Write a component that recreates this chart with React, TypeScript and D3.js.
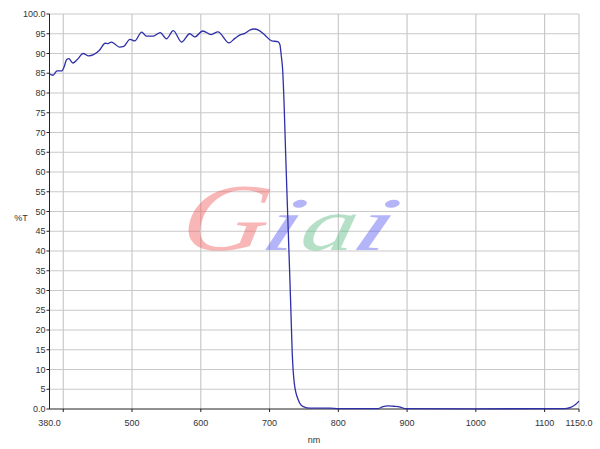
import React from "react";
import * as d3 from "d3";

const wavelengths = [380, 385, 391, 398, 401, 405, 408, 414, 420, 429, 437, 444, 453, 461, 465, 470, 475, 482, 488, 497, 504, 514, 521, 531, 541, 550, 560, 572, 584, 591, 603, 615, 625, 641, 650, 657, 664, 672, 677, 684, 693, 703, 712, 715, 717, 719, 721, 723.4, 725.8, 728.3, 730.7, 733, 736, 741.8, 749, 759, 788, 800, 858, 865, 872, 880, 890, 897, 1000, 1130, 1138, 1144, 1150];
const transmittance = [84.8, 84.5, 85.6, 85.6, 86.5, 88.5, 88.7, 87.6, 88.4, 90.0, 89.4, 89.7, 90.9, 92.6, 92.5, 92.9, 92.4, 91.6, 91.8, 93.6, 93.2, 95.4, 94.4, 94.4, 95.3, 93.7, 95.8, 92.9, 95.0, 94.2, 95.7, 94.8, 95.5, 92.7, 93.9, 94.7, 95.1, 96.0, 96.2, 95.9, 94.7, 93.2, 93.0, 92.3, 89.5, 86, 78, 64.7, 52.1, 39.4, 26.8, 14.1, 6.5, 2.3, 0.6, 0.2, 0.2, 0.1, 0.1, 0.6, 0.8, 0.7, 0.5, 0.1, 0.05, 0.1, 0.4, 1.0, 2.0];

const xTicks = [400, 500, 600, 700, 800, 900, 1000, 1100, 1150];
const xTickLabels = ["", "500", "600", "700", "800", "900", "1000", "1100", "1150.0"];
const xStartLabel = "380.0";
const yTicks = [0, 5, 10, 15, 20, 25, 30, 35, 40, 45, 50, 55, 60, 65, 70, 75, 80, 85, 90, 95, 100];
const yTickLabels = ["0.0", "5", "10", "15", "20", "25", "30", "35", "40", "45", "50", "55", "60", "65", "70", "75", "80", "85", "90", "95", "100.0"];
const xTitle = "nm";
const yTitle = "%T";

const W = 600;
const H = 449;
const left = 49.5;
const right = 579;
const top = 14;
const bottom = 409;

export default function App() {
  const x = d3.scaleLinear().domain([380, 1150]).range([left, right]);
  const y = d3.scaleLinear().domain([0, 100]).range([bottom, top]);
  const data = wavelengths.map((w, i) => [w, transmittance[i]] as [number, number]);
  const line = d3
    .line<[number, number]>()
    .x((d) => x(d[0]))
    .y((d) => y(d[1]))
    .curve(d3.curveMonotoneX);
  const font = "'Liberation Sans', Arial, sans-serif";
  const grid = "#c9c9c9";
  return (
    <svg
      width={W}
      height={H}
      style={{ position: "absolute", left: 0, top: 0, background: "#fff" }}
      fontFamily={font}
    >
      <rect x={0} y={0} width={W} height={H} fill="#fff" />
      {/* grid */}
      {yTicks.slice(1).map((t) => (
        <line key={"gy" + t} x1={left} x2={right} y1={y(t)} y2={y(t)} stroke={grid} strokeWidth={1.2} />
      ))}
      {xTicks.map((t) => (
        <line key={"gx" + t} x1={x(t)} x2={x(t)} y1={top} y2={bottom} stroke={grid} strokeWidth={1.2} />
      ))}
      {/* watermark */}
      <g fontFamily="'Liberation Serif', 'DejaVu Serif', serif" fontStyle="italic" opacity={0.45}>
        <text transform="translate(178,250) scale(1.25,1) skewX(-8)" fontSize={96} fill="#f06060">G</text>
        <text transform="translate(258,250) scale(1.7,1) skewX(-12)" fontSize={76} fill="#5a5af0">i</text>
        <text transform="translate(298,250) scale(1.45,1) skewX(-8)" fontSize={76} fill="#5cbc84">a</text>
        <text transform="translate(348,250) scale(1.8,1) skewX(-12)" fontSize={76} fill="#5a5af0">i</text>
      </g>
      {/* axes */}
      <line x1={left} x2={left} y1={top} y2={bottom} stroke="#222" strokeWidth={1} />
      <line x1={left} x2={right} y1={bottom} y2={bottom} stroke="#222" strokeWidth={1} />
      {yTicks.map((t, i) => (
        <g key={"yt" + t}>
          <line x1={left - 3} x2={left} y1={y(t)} y2={y(t)} stroke="#222" />
          <text x={left - 4} y={y(t)} dy="0.35em" textAnchor="end" fontSize={9} fill="#333">
            {yTickLabels[i]}
          </text>
        </g>
      ))}
      {xTicks.map((t, i) => (
        <g key={"xt" + t}>
          <line x1={x(t)} x2={x(t)} y1={bottom} y2={bottom + 3} stroke="#222" />
          <text x={x(t)} y={bottom + 17} textAnchor="middle" fontSize={9} fill="#333">
            {xTickLabels[i]}
          </text>
        </g>
      ))}
      <text x={x(380)} y={bottom + 17} textAnchor="middle" fontSize={9} fill="#333">
        {xStartLabel}
      </text>
      <text x={314} y={443} textAnchor="middle" fontSize={9} fill="#333">
        {xTitle}
      </text>
      <text x={21} y={221} textAnchor="middle" fontSize={9} fill="#333">
        {yTitle}
      </text>
      {/* curve */}
      <path d={line(data) ?? ""} fill="none" stroke="#2f2fa8" strokeWidth={1.3} />
    </svg>
  );
}
